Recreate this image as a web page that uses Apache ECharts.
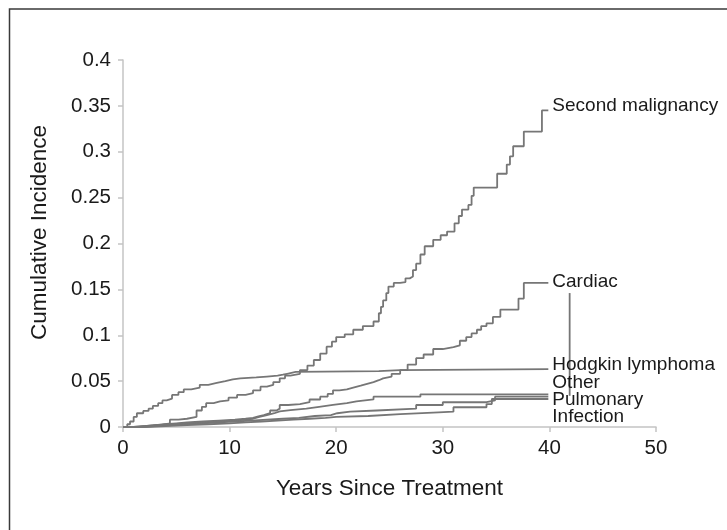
<!DOCTYPE html>
<html>
<head>
<meta charset="utf-8">
<script src="https://cdn.jsdelivr.net/npm/echarts@6/dist/echarts.min.js"></script>
<style>
html,body{margin:0;padding:0;background:#fff;}
#chart{width:727px;height:530px;}
</style>
</head>
<body>
<div id="chart"></div>
<script>
// ---- Data (years since treatment, cumulative incidence) ----
const seriesNames = ['Second malignancy','Cardiac','Hodgkin lymphoma','Other','Pulmonary','Infection'];

const secondMalignancy = [[0,0],[1.5,0.001],[2.5,0.002],[3.5,0.004],[4.4,0.008],[5.2,0.009],[6,0.011],[6.9,0.018],[7.4,0.022],[7.8,0.026],[8.5,0.028],[9.1,0.029],[9.9,0.032],[10.7,0.035],[11.5,0.037],[12.2,0.040],[12.9,0.044],[13.5,0.046],[14.1,0.049],[14.7,0.053],[15.2,0.056],[15.7,0.058],[16.6,0.062],[17.3,0.067],[17.9,0.073],[18.5,0.080],[19.1,0.0875],[19.6,0.093],[20,0.098],[20.8,0.101],[21.6,0.106],[22.5,0.110],[23.5,0.115],[24,0.124],[24.2,0.131],[24.4,0.138],[24.7,0.146],[24.9,0.153],[25.4,0.157],[26,0.158],[26.5,0.162],[26.9,0.164],[27.2,0.171],[27.5,0.178],[27.9,0.188],[28.3,0.197],[29.1,0.204],[29.8,0.209],[30.4,0.213],[31.1,0.222],[31.5,0.230],[31.8,0.237],[32.4,0.242],[32.7,0.252],[32.9,0.261],[35.1,0.276],[36,0.286],[36.3,0.295],[36.6,0.306],[37.6,0.322],[39.3,0.345],[39.9,0.345]];

const cardiac = [[0,0],[1,0.001],[2,0.002],[3,0.003],[4,0.004],[5,0.005],[6,0.006],[7.5,0.007],[9,0.008],[10.5,0.009],[11.5,0.010],[12.2,0.0115],[12.7,0.013],[13.2,0.015],[13.8,0.018],[14.4,0.020],[14.7,0.024],[15.5,0.025],[16.6,0.027],[17.5,0.030],[18.5,0.033],[19.2,0.036],[19.7,0.040],[20.3,0.041],[21,0.043],[21.6,0.045],[22.3,0.047],[22.9,0.049],[23.5,0.051],[24,0.053],[24.4,0.055],[25.2,0.058],[26,0.062],[26.7,0.068],[27.5,0.075],[28.2,0.079],[29.1,0.085],[30,0.087],[31,0.089],[31.6,0.094],[32.2,0.098],[32.7,0.102],[33.2,0.106],[33.6,0.110],[34.1,0.113],[34.7,0.120],[35.4,0.128],[37.1,0.140],[37.6,0.157],[39.9,0.157]];

const hodgkin = [[0,0],[0.4,0.003],[0.66,0.006],[1,0.011],[1.3,0.015],[1.9,0.0175],[2.4,0.020],[2.8,0.023],[3.3,0.026],[3.7,0.029],[4.1,0.031],[4.6,0.035],[5.2,0.038],[5.7,0.041],[6.4,0.043],[7.2,0.046],[8,0.048],[8.8,0.050],[9.6,0.052],[10.3,0.053],[11,0.054],[12.5,0.055],[13.5,0.056],[14.5,0.057],[15,0.058],[15.4,0.060],[16.2,0.061],[24,0.062],[26,0.063],[39.9,0.063]];

const other = [[0,0],[1,0.001],[2,0.002],[3,0.003],[4.5,0.004],[6,0.005],[7.5,0.006],[9,0.007],[10.5,0.008],[11.5,0.009],[12.2,0.011],[12.8,0.013],[13.5,0.015],[14.2,0.017],[14.7,0.0185],[15.7,0.020],[17.2,0.022],[18.4,0.024],[19.7,0.026],[21,0.028],[21.9,0.030],[23.5,0.033],[27.9,0.0356],[39.9,0.0356]];

const pulmonary = [[0,0],[1.5,0.001],[3,0.002],[4.5,0.003],[6,0.004],[7.5,0.005],[9,0.006],[10.5,0.007],[12,0.008],[13.5,0.009],[15,0.010],[16.5,0.012],[18,0.013],[19.5,0.015],[20.1,0.0167],[21.3,0.018],[23.8,0.020],[27.5,0.024],[30,0.027],[34.1,0.029],[34.9,0.033],[39.9,0.033]];

const infection = [[0,0],[2,0.001],[4,0.002],[6,0.003],[8,0.004],[10,0.005],[11.5,0.006],[13,0.007],[14.5,0.008],[16,0.009],[17.5,0.010],[19,0.011],[20,0.012],[23,0.014],[26,0.016],[29.6,0.0167],[31,0.0215],[34.1,0.025],[34.6,0.0305],[39.9,0.0305]];

const leaderLine = [[41.9,0.146],[41.9,0.034]];

const xTickLabels = ['0','10','20','30','40','50'];
const yTickLabels = ['0','0.05','0.1','0.15','0.2','0.25','0.3','0.35','0.4'];

// ---- Chart ----
const FONT = 'Liberation Sans, Arial, Helvetica, sans-serif';
const LINE = '#767676';
const allData = [secondMalignancy, cardiac, hodgkin, other, pulmonary, infection];
const labelOffsets = [[0,-5],[0,-1],[0,-4],[0,-12],[0,3],[0,18]];

const chart = echarts.init(document.getElementById('chart'), null, {renderer:'canvas'});
const series = seriesNames.map((name, i) => ({
  name: name,
  type: 'line',
  step: 'end',
  data: allData[i],
  showSymbol: false,
  symbol: 'none',
  lineStyle: {color: LINE, width: 1.8},
  itemStyle: {color: LINE},
  endLabel: {
    show: true,
    formatter: '{a}',
    color: '#1a1a1a',
    fontFamily: FONT,
    fontSize: 19,
    distance: 4,
    offset: labelOffsets[i]
  },
  z: 3
}));
series.push({
  name: 'leader',
  type: 'line',
  data: leaderLine,
  showSymbol: false,
  symbol: 'none',
  lineStyle: {color: LINE, width: 1.8}
});

chart.setOption({
  animation: false,
  backgroundColor: '#fff',
  grid: {left: 123, right: 71, top: 60, bottom: 103},
  graphic: [{
    type: 'rect',
    shape: {x: 9.5, y: 9, width: 900, height: 700},
    style: {fill: 'none', stroke: '#3a3a3a', lineWidth: 1.5},
    silent: true
  }],
  xAxis: {
    type: 'value', min: 0, max: 50, interval: 10,
    name: 'Years Since Treatment',
    nameLocation: 'middle', nameGap: 50,
    nameTextStyle: {fontFamily: FONT, fontSize: 22.5, color: '#1a1a1a'},
    axisLine: {lineStyle: {color: '#c4c4c4', width: 1.5}},
    axisTick: {show: true, length: 5, lineStyle: {color: '#c4c4c4', width: 1.5}},
    axisLabel: {margin: 11, fontFamily: FONT, fontSize: 20.5, color: '#1a1a1a',
      formatter: v => xTickLabels[Math.round(v/10)]},
    splitLine: {show: false}
  },
  yAxis: {
    type: 'value', min: 0, max: 0.4, interval: 0.05,
    name: 'Cumulative Incidence',
    nameLocation: 'middle', nameGap: 72,
    nameTextStyle: {fontFamily: FONT, fontSize: 22.5, color: '#1a1a1a', padding: [0,0,0,22]},
    axisLine: {show: true, lineStyle: {color: '#c4c4c4', width: 1.5}},
    axisTick: {show: true, length: 5, lineStyle: {color: '#c4c4c4', width: 1.5}},
    axisLabel: {margin: 12, fontFamily: FONT, fontSize: 20.5, color: '#1a1a1a',
      formatter: v => yTickLabels[Math.round(v/0.05)]},
    splitLine: {show: false}
  },
  series: series
});
</script>
</body>
</html>
